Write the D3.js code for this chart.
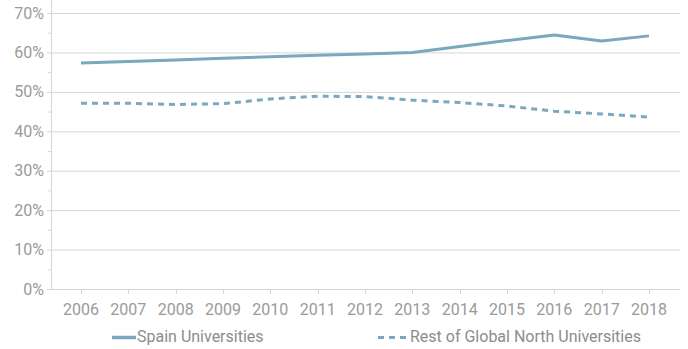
<!DOCTYPE html>
<html>
<head>
<meta charset="utf-8">
<script src="https://cdn.jsdelivr.net/npm/d3@7"></script>
<style>
  html, body { margin: 0; padding: 0; background: #fff; }
  svg { display: block; font-family: Roboto, "Noto Sans", sans-serif; }
</style>
</head>
<body>
<svg id="chart" width="688" height="349"></svg>
<script>
// Share of output by year
const years = [2006, 2007, 2008, 2009, 2010, 2011, 2012, 2013, 2014, 2015, 2016, 2017, 2018];
const spain = [57.3, 57.7, 58.1, 58.5, 58.9, 59.3, 59.6, 60.0, 61.5, 63.0, 64.4, 62.9, 64.2];
const restNorth = [47.1, 47.1, 46.8, 47.0, 48.2, 48.9, 48.8, 47.9, 47.3, 46.4, 45.1, 44.4, 43.6];
const yTicks = [0, 10, 20, 30, 40, 50, 60, 70];
const seriesNames = ["Spain Universities", "Rest of Global North Universities"];

const svg = d3.select("#chart");
const lineColor = "#7ba7bf";
const textColor = "#9a9a9a";
const gridColor = "#d6d6d6";
const fontSize = 16;

const plot = { left: 51, right: 680, top: 13, bottom: 289 };

const x = d3.scalePoint().domain(years).range([81, 649]);
const y = d3.scaleLinear().domain([0, 70]).range([plot.bottom, plot.top]);

// horizontal gridlines
svg.append("g").selectAll("line").data(yTicks).join("line")
  .attr("x1", plot.left - 4).attr("x2", plot.right)
  .attr("y1", d => y(d) + 0.5).attr("y2", d => y(d) + 0.5)
  .attr("stroke", gridColor).attr("stroke-width", 1);

// minor ticks on the y axis
svg.append("g").selectAll("line").data(yTicks.slice(0, -1).map(d => d + 5)).join("line")
  .attr("x1", plot.left - 3).attr("x2", plot.left)
  .attr("y1", d => y(d) + 0.5).attr("y2", d => y(d) + 0.5)
  .attr("stroke", gridColor);

// y axis line
svg.append("line")
  .attr("x1", plot.left + 0.5).attr("x2", plot.left + 0.5)
  .attr("y1", 0).attr("y2", plot.bottom)
  .attr("stroke", gridColor);

// y labels
svg.append("g").selectAll("text").data(yTicks).join("text")
  .attr("x", 44).attr("y", d => y(d))
  .attr("dy", "0.35em")
  .attr("text-anchor", "end")
  .attr("fill", textColor)
  .attr("font-size", fontSize)
  .text(d => d + "%");

// x ticks and labels
const xg = svg.append("g");
xg.selectAll("line").data(years).join("line")
  .attr("x1", d => Math.round(x(d)) + 0.5).attr("x2", d => Math.round(x(d)) + 0.5)
  .attr("y1", plot.bottom).attr("y2", plot.bottom + 5)
  .attr("stroke", gridColor);
xg.selectAll("text").data(years).join("text")
  .attr("x", d => x(d)).attr("y", 314.5)
  .attr("text-anchor", "middle")
  .attr("fill", textColor)
  .attr("font-size", fontSize)
  .text(d => d);

// series lines
const line = d3.line().x((d, i) => x(years[i])).y(d => y(d));

svg.append("path").datum(spain)
  .attr("d", line)
  .attr("fill", "none")
  .attr("stroke", lineColor)
  .attr("stroke-width", 3)
  .attr("stroke-linejoin", "round");

svg.append("path").datum(restNorth)
  .attr("d", line)
  .attr("fill", "none")
  .attr("stroke", lineColor)
  .attr("stroke-width", 3)
  .attr("stroke-dasharray", "6,5");

// legend
const legend = svg.append("g");
legend.append("line")
  .attr("x1", 112).attr("x2", 136).attr("y1", 337.5).attr("y2", 337.5)
  .attr("stroke", lineColor).attr("stroke-width", 3.5);
legend.append("text")
  .attr("x", 137).attr("y", 342)
  .attr("fill", "#8c8c8c").attr("font-size", fontSize)
  .text(seriesNames[0]);
legend.append("line")
  .attr("x1", 378).attr("x2", 406).attr("y1", 337.5).attr("y2", 337.5)
  .attr("stroke", lineColor).attr("stroke-width", 3)
  .attr("stroke-dasharray", "6,5");
legend.append("text")
  .attr("x", 410).attr("y", 342)
  .attr("fill", "#8c8c8c").attr("font-size", fontSize)
  .text(seriesNames[1]);
</script>
</body>
</html>
